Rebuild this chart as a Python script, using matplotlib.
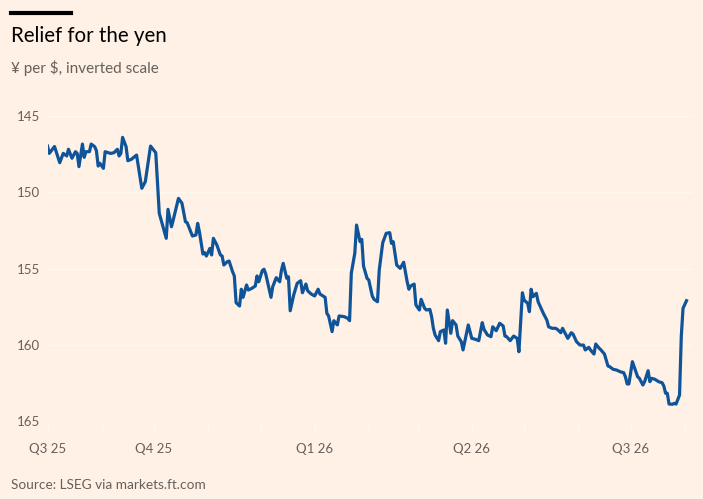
import pandas as pd
import numpy as np
import matplotlib
matplotlib.use("Agg")
import matplotlib.pyplot as plt
import matplotlib.dates as mdates
from matplotlib.lines import Line2D

plt.rcParams['font.family'] = ['Lato', 'DejaVu Sans']

# USD/JPY (days counted from start_date)
start_date = "2025-08-01"
days = [
    0, 1, 4, 7, 9, 11, 12, 14, 16, 17, 18, 20, 21, 22, 24, 25, 27, 28, 29, 30,
    32, 33, 36, 38, 40, 41, 42, 43, 45, 46, 48, 51, 54, 56, 59, 62, 64, 68, 69, 71,
    72, 75, 77, 79, 80, 82, 83, 85, 86, 87, 89, 90, 91, 93, 94, 95, 97, 99, 100, 101,
    103, 104, 106, 107, 108, 110, 111, 112, 114, 115, 117, 119, 120, 121, 123, 124, 125, 128, 129, 131,
    133, 134, 135, 137, 138, 139, 141, 143, 145, 146, 148, 149, 151, 153, 155, 156, 159, 160, 161, 163,
    164, 166, 167, 170, 172, 173, 174, 176, 177, 179, 180, 181, 183, 184, 186, 187, 189, 190, 192, 194,
    196, 197, 198, 200, 202, 204, 206, 207, 208, 210, 211, 213, 214, 216, 217, 219, 220, 221, 222, 224,
    225, 227, 228, 229, 231, 232, 234, 235, 237, 238, 239, 241, 243, 245, 247, 249, 250, 252, 254, 255,
    257, 259, 261, 262, 263, 265, 267, 269, 270, 272, 273, 275, 276, 277, 278, 280, 281, 283, 284, 286,
    287, 289, 291, 292, 294, 295, 297, 298, 300, 301, 303, 305, 307, 308, 310, 311, 313, 314, 316, 317,
    319, 321, 322, 324, 326, 328, 330, 331, 332, 333, 335, 336, 338, 339, 341, 342, 344, 345, 346, 348,
    350, 352, 353, 354, 355, 356, 358, 359, 360, 362, 363, 364, 366,
]
yen_per_dollar = [
    146.97, 147.45, 147.00, 148.06, 147.45, 147.62, 147.18, 147.77, 147.34, 147.45,
    148.32, 146.84, 147.71, 147.34, 147.34, 146.84, 147.01, 147.27, 148.28, 148.10,
    148.43, 147.34, 147.45, 147.41, 147.18, 147.62, 147.45, 146.40, 147.01, 147.93,
    147.84, 147.56, 149.74, 149.31, 146.97, 147.41, 151.38, 153.02, 151.12, 152.26,
    151.82, 150.40, 150.72, 151.93, 152.00, 152.59, 152.87, 152.80, 152.04, 152.59,
    154.05, 153.96, 154.18, 153.68, 154.11, 153.02, 153.46, 154.11, 154.18, 154.77,
    154.55, 154.51, 155.21, 155.49, 157.24, 157.46, 156.36, 156.89, 156.08, 156.41,
    156.30, 156.15, 155.49, 155.87, 155.14, 155.05, 155.36, 156.89, 156.19, 155.60,
    155.87, 155.10, 154.66, 155.64, 155.54, 157.77, 156.74, 155.97, 155.80, 156.59,
    156.02, 156.46, 156.67, 156.80, 156.36, 156.67, 156.89, 157.94, 158.11, 159.14,
    158.42, 158.70, 158.11, 158.16, 158.27, 158.42, 155.31, 154.00, 152.15, 153.24,
    153.09, 154.84, 155.64, 155.75, 156.80, 157.02, 157.18, 155.10, 153.31, 152.69,
    152.65, 153.35, 153.24, 154.77, 154.99, 154.59, 155.87, 156.36, 156.15, 156.02,
    157.39, 157.72, 157.02, 157.61, 157.72, 157.68, 158.16, 158.92, 159.36, 159.73,
    159.14, 159.03, 159.90, 157.72, 159.25, 158.42, 158.70, 159.43, 159.80, 160.34,
    159.80, 158.70, 159.58, 159.64, 159.73, 158.55, 158.99, 159.36, 159.47, 158.82,
    159.08, 158.59, 158.77, 159.43, 159.47, 159.73, 159.43, 159.58, 160.46, 156.59,
    157.07, 157.28, 157.83, 156.36, 156.85, 156.63, 157.18, 157.68, 157.94, 158.38,
    158.82, 158.92, 158.92, 158.99, 159.21, 158.92, 159.36, 159.58, 159.21, 159.30,
    159.80, 160.02, 160.02, 160.34, 160.17, 160.34, 160.61, 159.95, 160.23, 160.34,
    160.61, 161.39, 161.44, 161.61, 161.66, 161.77, 161.83, 162.10, 162.57, 162.57,
    161.11, 161.44, 162.10, 162.20, 162.64, 162.42, 161.70, 162.42, 162.20, 162.27,
    162.42, 162.49, 162.70, 163.18, 163.18, 163.89, 163.90, 163.84, 163.89, 163.30,
    159.47, 157.61, 157.11,
]

y_ticks = [145, 150, 155, 160, 165]
x_tick_dates = ["2025-08-01", "2025-10-01", "2026-01-01", "2026-04-01", "2026-07-01"]
x_tick_labels = ["Q3 25", "Q4 25", "Q1 26", "Q2 26", "Q3 26"]

title = "Relief for the yen"
subtitle = "¥ per $, inverted scale"
source = "Source: LSEG via markets.ft.com"

bg = "#FFF1E5"
line_color = "#0F5499"
grid_color = "#FFF8F1"
text_grey = "#66605C"

dates = pd.Timestamp(start_date) + pd.to_timedelta(days, unit="D")

fig = plt.figure(figsize=(7.03, 4.99), dpi=100, facecolor=bg)
ax = fig.add_axes([0.0676, 0.1563, 0.9164, 0.6112])
ax.set_facecolor(bg)

ax.plot(dates, yen_per_dollar, color=line_color, linewidth=2.3,
        solid_joinstyle="round", zorder=3)

ax.set_ylim(165, 145)
ax.set_yticks(y_ticks)
ax.set_xlim(pd.Timestamp("2025-08-01"), pd.Timestamp("2026-08-05"))
ax.set_xticks(pd.to_datetime(x_tick_dates))
ax.set_xticklabels(x_tick_labels)
ax.xaxis.set_minor_locator(mdates.MonthLocator())

for s in ax.spines.values():
    s.set_visible(False)
ax.grid(axis="y", color=grid_color, linewidth=1, zorder=1)
ax.tick_params(axis="y", length=0, pad=5.5, labelsize=9.5, labelcolor=text_grey)
ax.tick_params(axis="x", which="major", length=8, width=1, color=grid_color,
               pad=8, labelsize=9.5, labelcolor=text_grey)
ax.tick_params(axis="x", which="minor", length=8, width=1, color=grid_color)

fig.add_artist(Line2D([11 / 703, 71 / 703], [1 - 13 / 499, 1 - 13 / 499],
                      color="black", linewidth=3, transform=fig.transFigure))
fig.text(11 / 703, 1 - 36 / 499, title, fontsize=14.8, color="black", va="center")
fig.text(11 / 703, 1 - 68 / 499, subtitle, fontsize=11, color=text_grey, va="center")
fig.text(11 / 703, 1 - 485 / 499, source, fontsize=9.8, color=text_grey, va="center")

fig.savefig("out.png", dpi=100, facecolor=bg)
